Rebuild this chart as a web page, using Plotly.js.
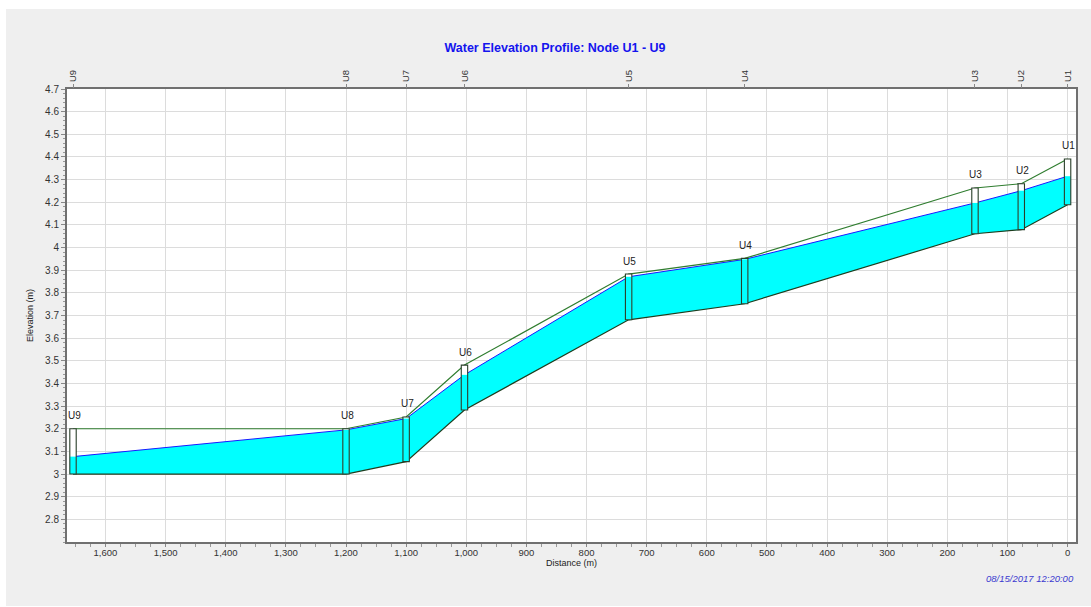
<!DOCTYPE html>
<html>
<head>
<meta charset="utf-8">
<script src="https://cdn.plot.ly/plotly-3.0.1.min.js"></script>
<style>
  html, body { margin: 0; padding: 0; background: #ffffff; }
  #chart { position: absolute; left: 6px; top: 9px; width: 1085px; height: 597px; }
</style>
</head>
<body>
<div id="chart"></div>
<script>
// Profile nodes, upstream (U9) to downstream (U1)
const nodeNames  = ["U9", "U8", "U7", "U6", "U5", "U4", "U3", "U2", "U1"];
const nodeDist   = [1654, 1200, 1100, 1003, 730, 537, 154, 77, 0];      // m
const nodeInvert = [3.000, 3.000, 3.055, 3.283, 3.681, 3.752, 4.061, 4.079, 4.189];
const nodeTop    = [3.200, 3.200, 3.252, 3.481, 3.883, 3.952, 4.263, 4.282, 4.391];
const waterLevel = [3.077, 3.195, 3.245, 3.438, 3.871, 3.948, 4.197, 4.251, 4.315];

const yTicks = [2.8, 2.9, 3.0, 3.1, 3.2, 3.3, 3.4, 3.5, 3.6, 3.7, 3.8, 3.9, 4.0, 4.1, 4.2, 4.3, 4.4, 4.5, 4.6, 4.7];
const xRange = [1664, -14];
const yRange = [2.7, 4.7];

const titleText = "Water Elevation Profile: Node U1 - U9";
const stampText = "08/15/2017 12:20:00";

const invertColor = "#1e3d1e";
const groundColor = "#2f7d2f";
const waterLine = "#1a1aff";
const waterFill = "#00ffff";
const font = "Liberation Sans, Arial, sans-serif";

const traces = [
  // invert base for the water fill
  { x: nodeDist, y: nodeInvert, mode: "lines", line: { width: 0 }, hoverinfo: "skip", showlegend: false },
  // water surface with fill down to the invert
  { x: nodeDist, y: waterLevel, mode: "lines", fill: "tonexty", fillcolor: waterFill,
    line: { color: waterLine, width: 1 }, showlegend: false },
  // conduit invert line
  { x: nodeDist, y: nodeInvert, mode: "lines", line: { color: invertColor, width: 1.2 }, showlegend: false },
  // ground line joining node tops
  { x: nodeDist, y: nodeTop, mode: "lines", line: { color: groundColor, width: 1.2 }, showlegend: false },
  // carrier for the top node axis
  { x: nodeDist, y: nodeTop, xaxis: "x2", mode: "markers", marker: { opacity: 0 }, hoverinfo: "skip", showlegend: false }
];

// Node boxes: white shaft, water inside, dark outline
const shapes = [];
nodeDist.forEach((d, i) => {
  const base = { type: "rect", xref: "x", yref: "y", xsizemode: "pixel", xanchor: d, x0: -3.2, x1: 3.2, layer: "above" };
  shapes.push(Object.assign({}, base, { y0: nodeInvert[i], y1: nodeTop[i], fillcolor: "#ffffff", line: { width: 0 } }));
  shapes.push(Object.assign({}, base, { y0: nodeInvert[i], y1: waterLevel[i], fillcolor: waterFill, line: { width: 0 } }));
  shapes.push(Object.assign({}, base, { y0: nodeInvert[i], y1: nodeTop[i], fillcolor: "rgba(0,0,0,0)",
    line: { color: "#2a3f2a", width: 1.1 } }));
});

// Node name above each box
const annotations = nodeNames.map((n, i) => ({
  x: nodeDist[i], y: nodeTop[i], xref: "x", yref: "y", text: n, showarrow: false,
  yshift: 13, xshift: 1, font: { family: font, size: 10, color: "#222" }
}));
annotations.push({
  xref: "paper", yref: "paper", x: 1, y: 0, xanchor: "right", yanchor: "middle", yshift: -36,
  text: stampText, showarrow: false,
  font: { family: font, size: 9.5, color: "#3a3ad0", style: "italic" }
});

const axisLine = "#707070";
const layout = {
  width: 1085, height: 597,
  margin: { l: 61, r: 15, t: 80, b: 64 },
  paper_bgcolor: "#efefef",
  plot_bgcolor: "#ffffff",
  showlegend: false,
  title: {
    text: titleText, xref: "container", yref: "container", x: 0.506, y: 0.936,
    xanchor: "center", yanchor: "middle",
    font: { family: font, size: 12.5, color: "#1414ee", weight: "bold" }
  },
  xaxis: {
    range: xRange, tickmode: "linear", tick0: 0, dtick: 100, tickformat: ",",
    showgrid: true, gridcolor: "#dcdcdc", gridwidth: 1, zeroline: false,
    showline: true, linecolor: axisLine, linewidth: 2, mirror: true,
    ticks: "outside", ticklen: 3, tickcolor: "#888", ticklabelstandoff: -2,
    minor: { tickmode: "linear", tick0: 0, dtick: 25, ticklen: 3, tickcolor: "#999", showgrid: false },
    tickfont: { family: font, size: 9.5, color: "#333" },
    title: { text: "Distance (m)", standoff: 2, font: { family: font, size: 9, color: "#222" } }
  },
  xaxis2: {
    overlaying: "x", side: "top", range: xRange,
    tickmode: "array", tickvals: nodeDist, ticktext: nodeNames, tickangle: -90,
    showgrid: false, zeroline: false, showline: false,
    ticks: "outside", ticklen: 4, tickcolor: "#888",
    tickfont: { family: font, size: 9.5, color: "#333" }
  },
  yaxis: {
    range: yRange, tickmode: "array", tickvals: yTicks,
    showgrid: true, gridcolor: "#dcdcdc", gridwidth: 1, zeroline: false,
    showline: true, linecolor: axisLine, linewidth: 2, mirror: true,
    ticks: "outside", ticklen: 4, tickcolor: "#888",
    minor: { tickmode: "linear", tick0: 2.7, dtick: 0.02, ticklen: 2.5, tickcolor: "#999", showgrid: false },
    tickfont: { family: font, size: 10, color: "#333" },
    title: { text: "Elevation (m)", standoff: 10, font: { family: font, size: 9, color: "#222" } }
  },
  shapes: shapes,
  annotations: annotations
};

Plotly.newPlot("chart", traces, layout, { displayModeBar: false, staticPlot: true });
</script>
</body>
</html>
